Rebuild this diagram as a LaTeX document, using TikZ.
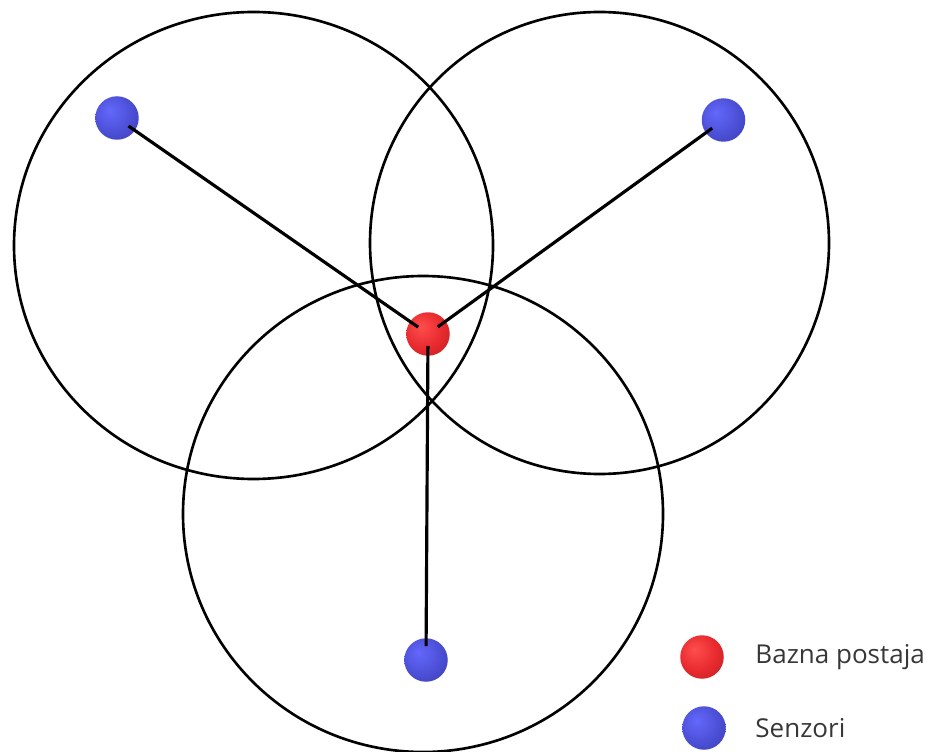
\documentclass[tikz,border=0pt]{standalone}
\usepackage{fontspec}
\setmainfont{Open Sans}
\usepackage{xcolor}
\usetikzlibrary{positioning}

\definecolor{senzorsvijetlo}{RGB}{100,104,252}
\definecolor{senzorsredina}{RGB}{76,80,215}
\definecolor{senzortamno}{RGB}{52,52,160}
\definecolor{bazasvijetlo}{RGB}{255,78,78}
\definecolor{bazasredina}{RGB}{232,42,46}
\definecolor{bazatamno}{RGB}{170,28,30}
\definecolor{tekst}{RGB}{55,55,55}

\pgfdeclareradialshading{senzorshade}{\pgfpoint{-9bp}{9bp}}{%
  color(0bp)=(senzorsvijetlo); color(22bp)=(senzorsredina);
  color(46bp)=(senzortamno); color(60bp)=(senzortamno)}
\pgfdeclareradialshading{bazashade}{\pgfpoint{-9bp}{9bp}}{%
  color(0bp)=(bazasvijetlo); color(22bp)=(bazasredina);
  color(46bp)=(bazatamno); color(60bp)=(bazatamno)}

\begin{document}
\begin{tikzpicture}[x=0.02cm,y=0.02cm,
  krug/.style={draw=black,line width=1.5pt},
  veza/.style={draw=black,line width=1.8pt,shorten <=0.28cm,shorten >=0.24cm},
  senzor/.style={circle,minimum size=0.87cm,inner sep=0pt,shading=senzorshade},
  baza/.style={circle,minimum size=0.87cm,inner sep=0pt,shading=bazashade},
  oznaka/.style={font=\fontsize{14.8}{17}\selectfont,text=tekst,inner sep=0pt,anchor=west}]
  \useasboundingbox (0,0) rectangle (935,751);

  % dometi senzora
  \draw[krug] (253.5,505.5) ellipse [x radius=239.5, y radius=233.5];
  \draw[krug] (599.5,508) ellipse [x radius=229.5, y radius=231];
  \draw[krug] (423,237) ellipse [x radius=240, y radius=238];

  % senzori i bazna postaja
  \node[senzor] (s1) at (117,633) {};
  \node[senzor] (s2) at (723.5,631) {};
  \node[senzor] (s3) at (426,91) {};
  \node[baza] (bs) at (428,417) {};

  \draw[veza] (s1.center) -- (bs.center);
  \draw[veza] (s2.center) -- (bs.center);
  \draw[veza] (s3.center) -- (bs.center);

  % legenda
  \node[baza] (lbaza) at (702,94) {};
  \node[oznaka,right=0.62cm of lbaza] (tbaza) {Bazna postaja};
  \node[senzor] (lsenzor) at (704,23) {};
  \node[oznaka,right=0.58cm of lsenzor] (tsenzor) {Senzori};
\end{tikzpicture}
\end{document}
